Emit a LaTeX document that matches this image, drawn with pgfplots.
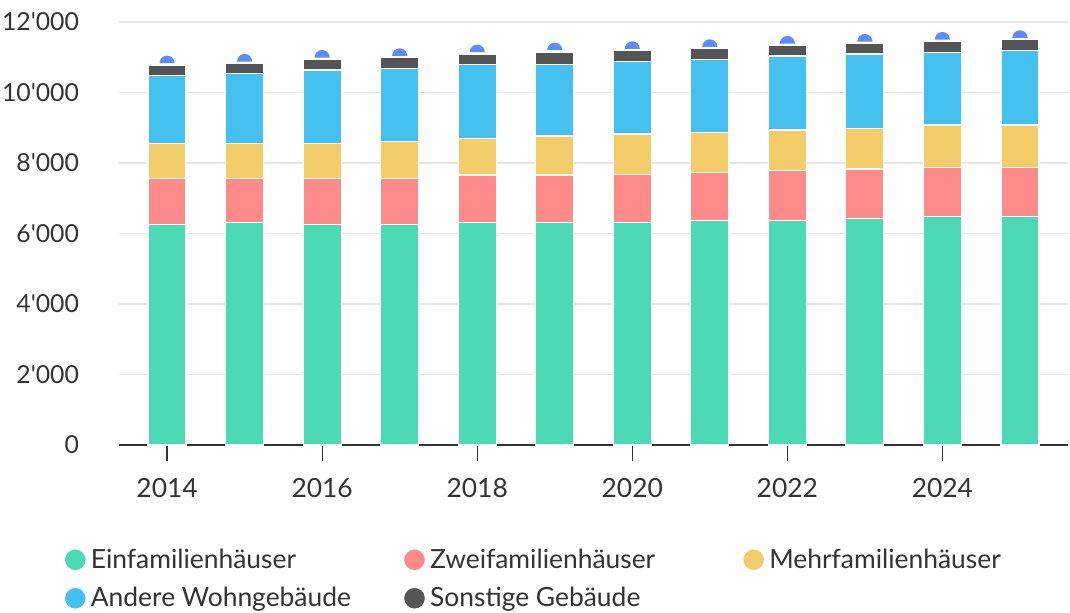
\documentclass[border=0pt]{standalone}
\usepackage{fontspec}
\setmainfont{Lato}
\usepackage{pgfplots}
\pgfplotsset{compat=1.18}
\definecolor{cGreen}{RGB}{75,218,180}
\definecolor{cRed}{RGB}{255,138,138}
\definecolor{cYellow}{RGB}{242,205,105}
\definecolor{cBlue}{RGB}{69,193,239}
\definecolor{cGray}{RGB}{85,85,88}
\definecolor{cCap}{RGB}{91,140,255}
\definecolor{cText}{RGB}{51,51,51}
\definecolor{cGrid}{RGB}{230,230,230}
\pgfdeclareplotmark{halfdisc}{%
  \pgfpathmoveto{\pgfqpoint{\pgfplotmarksize}{0pt}}%
  \pgfpatharc{0}{180}{\pgfplotmarksize}%
  \pgfpathclose\pgfusepathqfill}
\begin{document}
\begin{tikzpicture}
\path[use as bounding box] (-59.5pt,-83.5pt) rectangle (475.5pt,222.5pt);
\begin{axis}[
  scale only axis, width=474.5pt, height=211.5pt,
  xmin=2013.38, xmax=2025.62, ymin=0, ymax=12000,
  ybar stacked, bar width=19pt,
  xtick={2014,2016,...,2024},
  ytick={0,2000,...,12000},
  scaled y ticks=false,
  axis x line*=bottom, axis y line*=left,
  x axis line style={-, draw=cText, line width=0.8pt},
  y axis line style={draw=none},
  ymajorgrids, grid style={cGrid, line width=0.8pt},
  ytick style={draw=none},
  xtick style={draw=cText, line width=0.6pt},
  tick align=outside, major tick length=8pt,
  tick label style={font=\fontsize{13.2}{15}\selectfont, text=cText},
  /pgf/number format/assume math mode=true,
  yticklabel style={/pgf/number format/1000 sep={\textquotesingle}, xshift=-8.5pt, font=\fontsize{12.4}{15}\selectfont},
  xticklabel style={/pgf/number format/1000 sep={}, yshift=-5pt},
  legend style={at={(-0.065,-0.225)}, anchor=north west, draw=none,
    font=\fontsize{13.2}{15}\selectfont, text=cText,
    /tikz/every even column/.style={column sep=4pt},
    row sep=4pt, legend cell align=left},
  legend columns=3,
  legend image code/.code={\fill (0.35em,0pt) circle (5.5pt);},
]
\addplot[fill=cGreen, draw=white, line width=0.6pt] coordinates {
(2014,6260) (2015,6307) (2016,6260) (2017,6260) (2018,6307) (2019,6307)
(2020,6317) (2021,6364) (2022,6364) (2023,6420) (2024,6477) (2025,6477)};
\addlegendentry{\makebox[150pt][l]{Einfamilienhäuser}}
\addplot[fill=cRed, draw=white, line width=0.6pt] coordinates {
(2014,1305) (2015,1258) (2016,1305) (2017,1305) (2018,1353) (2019,1353)
(2020,1361) (2021,1362) (2022,1419) (2023,1410) (2024,1400) (2025,1400)};
\addlegendentry{\makebox[150pt][l]{Zweifamilienhäuser}}
\addplot[fill=cYellow, draw=white, line width=0.6pt] coordinates {
(2014,993) (2015,993) (2016,993) (2017,1040) (2018,1040) (2019,1106)
(2020,1145) (2021,1144) (2022,1153) (2023,1153) (2024,1201) (2025,1201)};
\addlegendentry{Mehrfamilienhäuser}
\addplot[fill=cBlue, draw=white, line width=0.6pt] coordinates {
(2014,1919) (2015,1976) (2016,2080) (2017,2081) (2018,2099) (2019,2033)
(2020,2051) (2021,2070) (2022,2099) (2023,2109) (2024,2062) (2025,2109)};
\addlegendentry{\makebox[150pt][l]{Andere Wohngebäude}}
\addplot[fill=cGray, draw=white, line width=0.6pt] coordinates {
(2014,303) (2015,294) (2016,303) (2017,302) (2018,293) (2019,350)
(2020,313) (2021,303) (2022,303) (2023,303) (2024,312) (2025,312)};
\addlegendentry{Sonstige Gebäude}
\end{axis}
\begin{axis}[
  scale only axis, width=474.5pt, height=211.5pt,
  xmin=2013.38, xmax=2025.62, ymin=0, ymax=12000,
  hide axis, clip=false,
]
\addplot[only marks, mark=halfdisc, mark size=3.8pt, color=cCap] coordinates {
(2014,10830) (2015,10878) (2016,10991) (2017,11038) (2018,11142) (2019,11199)
(2020,11237) (2021,11293) (2022,11388) (2023,11445) (2024,11502) (2025,11549)};
\end{axis}
\end{tikzpicture}
\end{document}
